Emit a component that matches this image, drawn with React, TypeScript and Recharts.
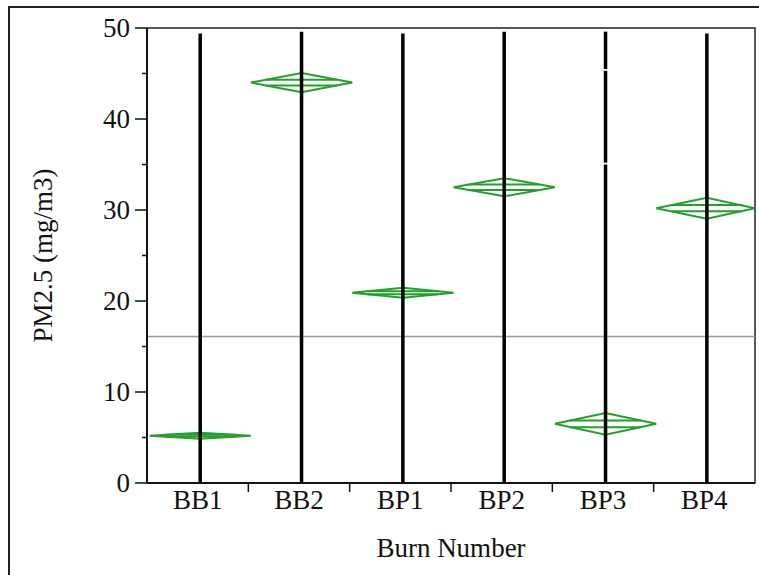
import React from 'react';
import { ComposedChart, Scatter, XAxis, YAxis, ReferenceLine, ReferenceArea, Label } from 'recharts';

// burn groups and their means diamonds
const categories = ['BB1', 'BB2', 'BP1', 'BP2', 'BP3', 'BP4'];
const means = [5.2, 44.0, 20.9, 32.5, 6.5, 30.2];
const ciHalfWidths = [0.33, 1.05, 0.55, 1.0, 1.2, 1.15];

// observed ranges of the raw points (stacked dots look like solid bars)
const observedRanges: [number, number][][] = [
    [[0, 49.4]],
    [[0, 49.6]],
    [[0, 49.4]],
    [[0, 49.6]],
    [[0, 35.0], [35.2, 45.3], [45.5, 49.6]],
    [[0, 49.4]],
];

const grandMean = 16.1;
const yTicks = [0, 5, 10, 15, 20, 25, 30, 35, 40, 45, 50];

const FONT = '"Liberation Serif", "Times New Roman", serif';
const GREEN = '#23a02b';
const OVERLAP = 0.3;
// marks sit a touch right of the band centre in the original
const MARK_SHIFT = 0.025;

const xTicks: number[] = [];
categories.forEach((_, i) => {
    xTicks.push(i + 1);
    if (i < categories.length - 1) xTicks.push(i + 1.5);
});

const diamonds = categories.map((_, i) => {
    const x = i + 1 + MARK_SHIFT;
    const m = means[i];
    const c = ciHalfWidths[i];
    return [
        { x: x - 0.5, y: m },
        { x, y: m + c },
        { x: Math.min(x + 0.5, 6.5), y: m },
        { x, y: m - c },
        { x: x - 0.5, y: m },
    ];
});

const overlapMarks = categories.flatMap((_, i) => {
    const x = i + 1 + MARK_SHIFT;
    const m = means[i];
    const c = ciHalfWidths[i];
    const half = 0.5 * (1 - OVERLAP);
    return [
        [{ x: x - half, y: m + OVERLAP * c }, { x: x + half, y: m + OVERLAP * c }],
        [{ x: x - half, y: m - OVERLAP * c }, { x: x + half, y: m - OVERLAP * c }],
    ];
});

const pointLines = observedRanges.flatMap((ranges, i) =>
    ranges.map(([lo, hi]) => [{ x: i + 1 + MARK_SHIFT, y: lo }, { x: i + 1 + MARK_SHIFT, y: hi }])
);

const NoDot = () => <g />;

const XTick = ({ x, y, payload }: any) => {
    const v = payload.value;
    if (Number.isInteger(v)) {
        return (
            <text x={x} y={y} dy={18} textAnchor="middle" fontFamily={FONT} fontSize={27} fill="#111">
                {categories[v - 1]}
            </text>
        );
    }
    return <line x1={x} x2={x} y1={y - 8} y2={y + 1} stroke="#111" strokeWidth={1.5} />;
};

const YTick = ({ x, y, payload }: any) => {
    const v = payload.value;
    if (v % 10 === 0) {
        return (
            <g>
                <line x1={x + 5} x2={x + 17} y1={y} y2={y} stroke="#111" strokeWidth={1.5} />
                <text x={x} y={y} dy={9} textAnchor="end" fontFamily={FONT} fontSize={27} fill="#111">
                    {v}
                </text>
            </g>
        );
    }
    return <line x1={x + 12} x2={x + 17} y1={y} y2={y} stroke="#111" strokeWidth={1.5} />;
};

export default function App() {
    return (
        <div style={{ position: 'fixed', left: 0, top: 0, width: 759, height: 575, overflow: 'hidden', background: '#fff' }}>
            <div style={{ position: 'absolute', left: 8, top: 6, width: 800, height: 650, border: '2px solid #222' }} />
            <div style={{ position: 'absolute', left: 0, top: 0 }}>
                <ComposedChart width={759} height={575} margin={{ top: 28, right: 4, bottom: 18, left: 0 }}>
                    <XAxis
                        type="number"
                        dataKey="x"
                        domain={[0.5, 6.5]}
                        ticks={xTicks}
                        interval={0}
                        allowDecimals
                        allowDataOverflow
                        height={74}
                        tickSize={8}
                        tickMargin={0}
                        tickLine={{ stroke: 'none' }}
                        axisLine={{ stroke: '#111', strokeWidth: 2 }}
                        tick={<XTick />}
                    >
                        <Label value="Burn Number" position="insideBottom" offset={0} fontFamily={FONT} fontSize={27} fill="#111" />
                    </XAxis>
                    <YAxis
                        type="number"
                        dataKey="y"
                        domain={[0, 50]}
                        ticks={yTicks}
                        interval={0}
                        width={147}
                        tickSize={12}
                        tickMargin={5}
                        tickLine={{ stroke: 'none' }}
                        axisLine={{ stroke: '#111', strokeWidth: 2 }}
                        tick={<YTick />}
                    >
                        <Label
                            content={(props: any) => {
                                const vb = props.viewBox;
                                const cx = vb.x + 43;
                                const cy = vb.y + vb.height / 2;
                                return (
                                    <text
                                        x={cx}
                                        y={cy}
                                        transform={`rotate(-90 ${cx} ${cy})`}
                                        textAnchor="middle"
                                        dominantBaseline="central"
                                        fontFamily={FONT}
                                        fontSize={27}
                                        fill="#111"
                                    >
                                        PM2.5 (mg/m3)
                                    </text>
                                );
                            }}
                        />
                    </YAxis>
                    <ReferenceArea x1={0.5} x2={6.5} y1={0} y2={50} fill="none" stroke="#222" strokeWidth={1.5} />
                    <ReferenceLine y={grandMean} stroke="#9a9a9a" strokeWidth={1.5} />
                    {diamonds.map((pts, i) => (
                        <Scatter
                            key={`d${i}`}
                            data={pts}
                            line={{ stroke: GREEN, strokeWidth: 2 }}
                            lineType="joint"
                            shape={NoDot}
                            isAnimationActive={false}
                        />
                    ))}
                    {overlapMarks.map((pts, i) => (
                        <Scatter
                            key={`o${i}`}
                            data={pts}
                            line={{ stroke: GREEN, strokeWidth: 2 }}
                            lineType="joint"
                            shape={NoDot}
                            isAnimationActive={false}
                        />
                    ))}
                    {pointLines.map((pts, i) => (
                        <Scatter
                            key={`p${i}`}
                            data={pts}
                            line={{ stroke: '#000', strokeWidth: 3.5 }}
                            lineType="joint"
                            shape={NoDot}
                            isAnimationActive={false}
                        />
                    ))}
                </ComposedChart>
            </div>
        </div>
    );
}
